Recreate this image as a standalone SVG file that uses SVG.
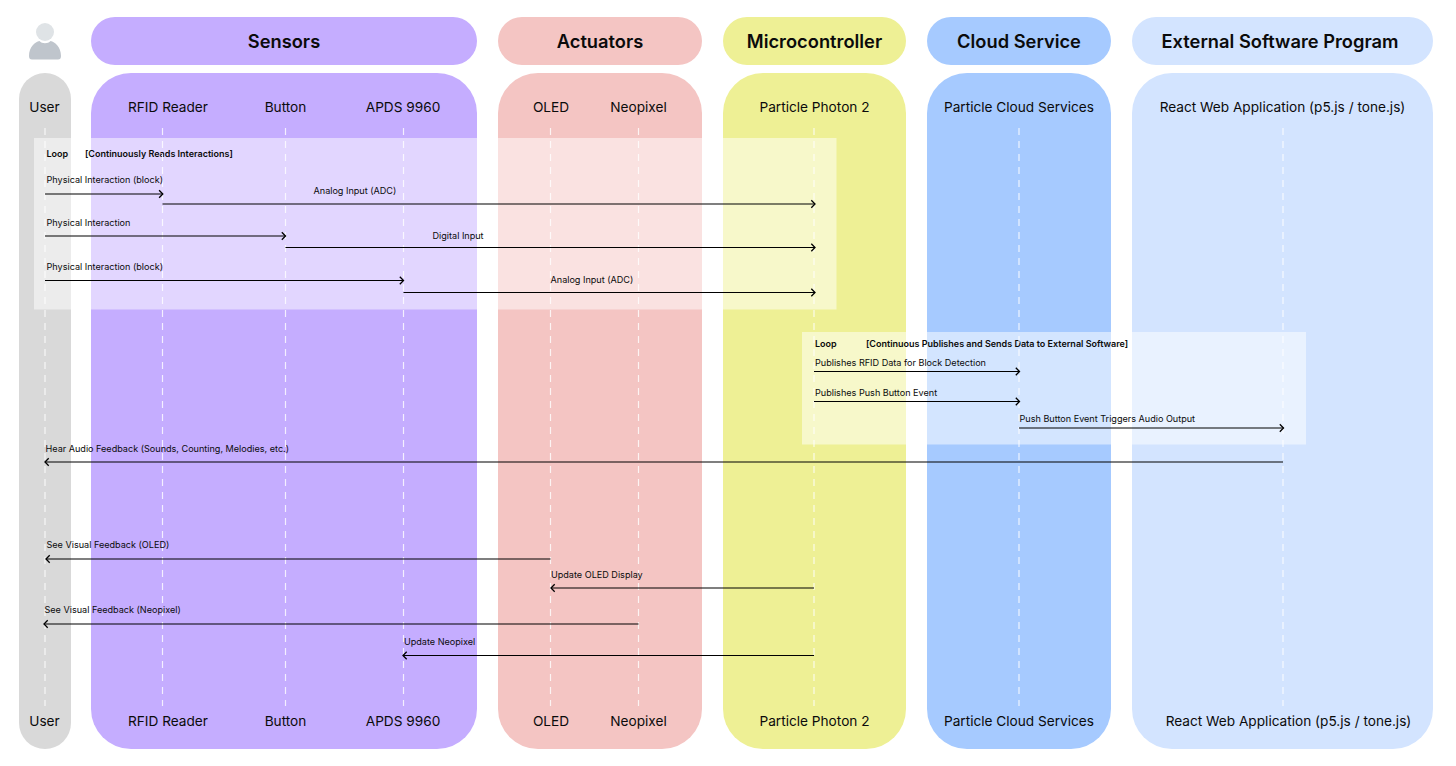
<svg xmlns="http://www.w3.org/2000/svg" width="1456" height="766" viewBox="0 0 1456 766">
<defs>
<marker id="arrow" markerUnits="userSpaceOnUse" markerWidth="12" markerHeight="12" refX="9.500" refY="6" orient="auto-start-reverse"><path d="M5.800 2.300L9.500 6L5.800 9.700" fill="none" stroke="#000" stroke-width="1.300"/></marker>
</defs>
<style>
text{font-family:Inter,"Liberation Sans",sans-serif;fill:#0b0b0b}
.h{font-size:18.300px;font-weight:600;text-anchor:middle}
.n{font-size:13.650px;text-anchor:middle}
.m{font-size:9.080px}
.l{font-size:9px;font-weight:600}
.life{stroke:#fff;stroke-opacity:.8;stroke-width:1.200;stroke-dasharray:7 6;fill:none}
.c{stroke:#000;stroke-width:1.200;fill:none;marker-end:url(#arrow)}
.loop{fill:#fff;fill-opacity:.5}
</style>
<g id="user-actor">
<circle cx="45" cy="32" r="9" fill="#dfe3e6"/>
<path d="M29 56C29 47 35 42 39.500 41C42 44 48 44 50.500 41C55 42 61 47 61 56Q61 59.500 58 59.500H32Q29 59.500 29 56Z" fill="#bfc5cc"/>
<rect x="19" y="73" width="52" height="676" rx="26" fill="#d9d9d9"/>
<text class="n" x="44.500" y="112">User</text>
<text class="n" x="44.500" y="726">User</text>
</g>
<g id="sensors">
<rect x="91" y="17" width="386" height="48" rx="24" fill="#c5adff"/>
<text class="h" x="284" y="47.500">Sensors</text>
<rect x="91" y="73" width="386" height="676" rx="40" fill="#c5adff"/>
<text class="n" x="168" y="112">RFID Reader</text>
<text class="n" x="285.500" y="112">Button</text>
<text class="n" x="403" y="112">APDS 9960</text>
<text class="n" x="168" y="726">RFID Reader</text>
<text class="n" x="285.500" y="726">Button</text>
<text class="n" x="403" y="726">APDS 9960</text>
</g>
<g id="actuators">
<rect x="498" y="17" width="204" height="48" rx="24" fill="#f4c5c3"/>
<text class="h" x="600" y="47.500">Actuators</text>
<rect x="498" y="73" width="204" height="676" rx="40" fill="#f4c5c3"/>
<text class="n" x="551" y="112">OLED</text>
<text class="n" x="638.500" y="112">Neopixel</text>
<text class="n" x="551" y="726">OLED</text>
<text class="n" x="638.500" y="726">Neopixel</text>
</g>
<g id="microcontroller">
<rect x="723" y="17" width="183" height="48" rx="24" fill="#eef095"/>
<text class="h" x="814.500" y="47.500">Microcontroller</text>
<rect x="723" y="73" width="183" height="676" rx="40" fill="#eef095"/>
<text class="n" x="814.500" y="112">Particle Photon 2</text>
<text class="n" x="814.500" y="726">Particle Photon 2</text>
</g>
<g id="cloud-service">
<rect x="927" y="17" width="184" height="48" rx="24" fill="#a6caff"/>
<text class="h" x="1019" y="47.500">Cloud Service</text>
<rect x="927" y="73" width="184" height="676" rx="40" fill="#a6caff"/>
<text class="n" x="1019" y="112">Particle Cloud Services</text>
<text class="n" x="1019" y="726">Particle Cloud Services</text>
</g>
<g id="external-software">
<rect x="1132" y="17" width="301" height="48" rx="24" fill="#d3e4ff"/>
<text class="h" x="1280" y="47.500">External Software Program</text>
<rect x="1132" y="73" width="301" height="676" rx="40" fill="#d3e4ff"/>
<text class="n" x="1282.500" y="112">React Web Application (p5.js / tone.js)</text>
<text class="n" x="1288.500" y="726">React Web Application (p5.js / tone.js)</text>
</g>
<g id="loop-interactions">
<rect class="loop" x="34" y="138" width="802.500" height="171.500"/>
<text class="l" x="46.500" y="157">Loop</text>
<text class="l" x="85" y="157">[Continuously Reads Interactions]</text>
</g>
<g id="loop-publishes">
<rect class="loop" x="802" y="332" width="504" height="112.500"/>
<text class="l" x="815" y="346.500">Loop</text>
<text class="l" x="866" y="346.500">[Continuous Publishes and Sends Data to External Software]</text>
</g>
<g id="connectors">
<path class="life" d="M45 128V706M162.500 128V706M285.500 128V706M403.500 128V706M550.500 128V706M638.500 128V706M814 128V706M1019 128V706M1283 128V706"/>
<path class="c" d="M45 194H162.800"/>
<path class="c" d="M162.500 204H815"/>
<path class="c" d="M45 236H285.500"/>
<path class="c" d="M285.500 247.500H815"/>
<path class="c" d="M45 280.500H403.500"/>
<path class="c" d="M403.500 292.500H815"/>
<path class="c" d="M814 371.500H1019.500"/>
<path class="c" d="M814 401.500H1019.500"/>
<path class="c" d="M1019 428H1283.500"/>
<path class="c" d="M1283 462H45"/>
<path class="c" d="M550.500 559H46"/>
<path class="c" d="M814 588H551"/>
<path class="c" d="M638.500 624H44"/>
<path class="c" d="M814 655.500H403"/>
<text class="m" x="46.500" y="183">Physical Interaction (block)</text>
<text class="m" x="313.500" y="194">Analog Input (ADC)</text>
<text class="m" x="46.500" y="226">Physical Interaction</text>
<text class="m" x="432.500" y="238.500">Digital Input</text>
<text class="m" x="46.500" y="270">Physical Interaction (block)</text>
<text class="m" x="550.500" y="282.500">Analog Input (ADC)</text>
<text class="m" x="815" y="366">Publishes RFID Data for Block Detection</text>
<text class="m" x="815" y="396">Publishes Push Button Event</text>
<text class="m" x="1019.500" y="421.500">Push Button Event Triggers Audio Output</text>
<text class="m" x="45.500" y="452">Hear Audio Feedback (Sounds, Counting, Melodies, etc.)</text>
<text class="m" x="46.500" y="548">See Visual Feedback (OLED)</text>
<text class="m" x="551" y="578">Update OLED Display</text>
<text class="m" x="44.500" y="613">See Visual Feedback (Neopixel)</text>
<text class="m" x="404" y="645">Update Neopixel</text>
</g>
</svg>
